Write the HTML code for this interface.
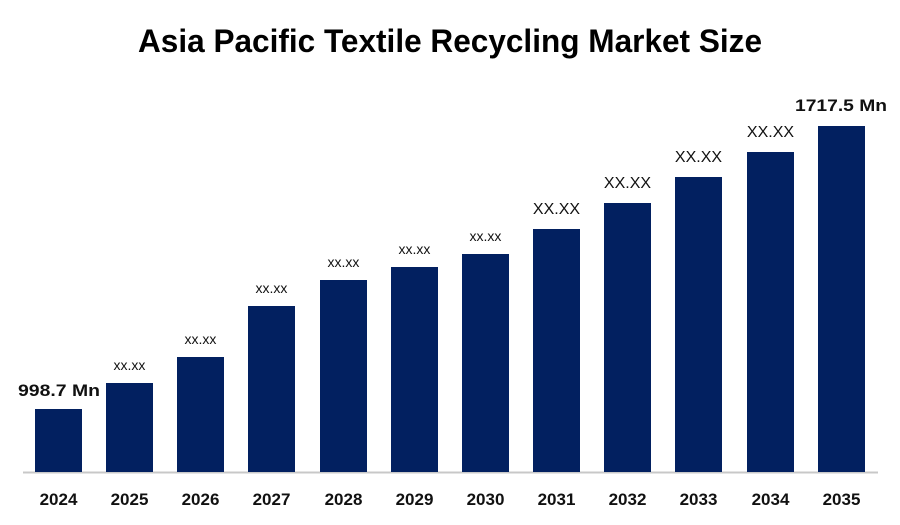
<!DOCTYPE html>
<html><head><meta charset="utf-8"><style>
html,body{margin:0;padding:0;background:#fff;width:900px;height:525px;overflow:hidden}
svg{display:block;font-family:"Liberation Sans",sans-serif}
</style></head><body>
<svg width="900" height="525" viewBox="0 0 900 525">
<text x="450" y="52" text-anchor="middle" font-size="32" font-weight="bold" fill="#000" textLength="624" lengthAdjust="spacingAndGlyphs">Asia Pacific Textile Recycling Market Size</text>
<line x1="23" y1="472.5" x2="878" y2="472.5" stroke="#c8c8c8" stroke-width="2"/>
<g fill="#022060">
<rect x="35" y="409" width="47" height="63"/>
<rect x="106" y="383" width="47" height="89"/>
<rect x="177" y="357" width="47" height="115"/>
<rect x="248" y="306" width="47" height="166"/>
<rect x="320" y="280" width="47" height="192"/>
<rect x="391" y="267" width="47" height="205"/>
<rect x="462" y="254" width="47" height="218"/>
<rect x="533" y="229" width="47" height="243"/>
<rect x="604" y="203" width="47" height="269"/>
<rect x="675" y="177" width="47" height="295"/>
<rect x="747" y="152" width="47" height="320"/>
<rect x="818" y="126" width="47" height="346"/>
</g>
<g font-size="17" font-weight="bold" text-anchor="middle" fill="#111">
<text x="58.5" y="505">2024</text><text x="129.5" y="505">2025</text><text x="200.5" y="505">2026</text>
<text x="271.5" y="505">2027</text><text x="343.5" y="505">2028</text><text x="414.5" y="505">2029</text>
<text x="485.5" y="505">2030</text><text x="556.5" y="505">2031</text><text x="627.5" y="505">2032</text>
<text x="698.5" y="505">2033</text><text x="770.5" y="505">2034</text><text x="841.5" y="505">2035</text>
</g>
<g font-size="17" font-weight="bold" text-anchor="middle" fill="#111">
<text x="59" y="396" textLength="82" lengthAdjust="spacingAndGlyphs">998.7 Mn</text>
<text x="841" y="111" textLength="92" lengthAdjust="spacingAndGlyphs">1717.5 Mn</text>
</g>
<g font-size="14" text-anchor="middle" fill="#111">
<text x="129.5" y="370">xx.xx</text><text x="200.5" y="344">xx.xx</text><text x="271.5" y="293">xx.xx</text>
<text x="343.5" y="267">xx.xx</text><text x="414.5" y="254">xx.xx</text><text x="485.5" y="241">xx.xx</text>
</g>
<g font-size="16" text-anchor="middle" fill="#111">
<text x="556.5" y="214">XX.XX</text><text x="627.5" y="188">XX.XX</text>
<text x="698.5" y="162">XX.XX</text><text x="770.5" y="137">XX.XX</text>
</g>
</svg>
</body></html>
